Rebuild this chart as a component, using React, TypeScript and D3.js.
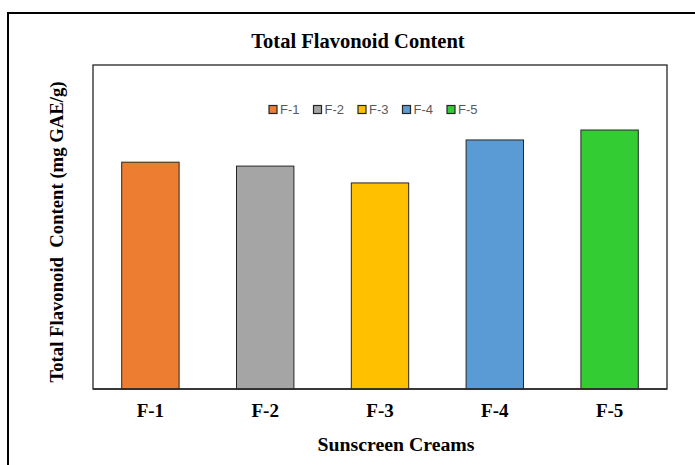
import React, { useEffect, useRef } from "react";
import * as d3 from "d3";

const categories = ["F-1", "F-2", "F-3", "F-4", "F-5"];
const values = [10.5, 10.32, 9.54, 11.53, 11.99];
const colors = ["#ED7D31", "#A5A5A5", "#FFC000", "#5B9BD5", "#33CC33"];
const yDomainMax = 15;

export default function App() {
  const ref = useRef<SVGSVGElement | null>(null);

  useEffect(() => {
    const svg = d3.select(ref.current);
    svg.selectAll("*").remove();
    const m = { left: 93, right: 667, top: 65, bottom: 389 };

    // outer frame
    svg.append("rect").attr("x", 8).attr("y", 13).attr("width", 700).attr("height", 470)
      .attr("fill", "white").attr("stroke", "#000").attr("stroke-width", 2);

    const x = d3.scaleBand<string>().domain(categories).range([m.left, m.right]).paddingInner(0.5).paddingOuter(0.25);
    const y = d3.scaleLinear().domain([0, yDomainMax]).range([m.bottom, m.top]);

    // plot border
    svg.append("rect").attr("x", m.left).attr("y", m.top).attr("width", m.right - m.left).attr("height", m.bottom - m.top)
      .attr("fill", "white").attr("stroke", "#262626").attr("stroke-width", 1.3);

    svg.append("g").selectAll("rect").data(categories).join("rect")
      .attr("x", (d) => x(d)!)
      .attr("y", (_d, i) => y(values[i]))
      .attr("width", x.bandwidth())
      .attr("height", (_d, i) => y(0) - y(values[i]))
      .attr("fill", (_d, i) => colors[i])
      .attr("stroke", "#262626").attr("stroke-width", 1);

    svg.append("line").attr("x1", m.left).attr("x2", m.right).attr("y1", m.bottom).attr("y2", m.bottom)
      .attr("stroke", "#262626").attr("stroke-width", 1.5);

    const serif = "'Liberation Serif', 'Times New Roman', serif";

    // x tick labels
    svg.append("g").selectAll("text").data(categories).join("text")
      .attr("x", (d) => x(d)! + x.bandwidth() / 2)
      .attr("y", 417)
      .attr("text-anchor", "middle")
      .attr("font-family", serif).attr("font-weight", "bold").attr("font-size", 19)
      .attr("fill", "#000")
      .text((d) => d);

    svg.append("text").attr("x", 396).attr("y", 451).attr("text-anchor", "middle")
      .attr("font-family", serif).attr("font-weight", "bold").attr("font-size", 19.8)
      .text("Sunscreen Creams");

    svg.append("text").attr("x", 358).attr("y", 48).attr("text-anchor", "middle")
      .attr("font-family", serif).attr("font-weight", "bold").attr("font-size", 20.5)
      .text("Total Flavonoid Content");

    svg.append("text")
      .attr("transform", `translate(63, 232) rotate(-90)`)
      .attr("text-anchor", "middle")
      .attr("font-family", serif).attr("font-weight", "bold").attr("font-size", 18.7)
      .style("white-space", "pre")
      .text("Total Flavonoid  Content (mg GAE/g)");

    // legend
    const lg = svg.append("g");
    const lx0 = 269, step = 44.5, ly = 109.5;
    categories.forEach((c, i) => {
      const gx = lx0 + i * step;
      lg.append("rect").attr("x", gx).attr("y", ly - 4).attr("width", 8).attr("height", 8)
        .attr("fill", colors[i]).attr("stroke", "#262626").attr("stroke-width", 1.2);
      lg.append("text").attr("x", gx + 11).attr("y", ly + 4.5)
        .attr("font-family", "'Liberation Sans', Arial, sans-serif").attr("font-size", 13)
        .attr("fill", "#595959").text(c);
    });
  }, []);

  return (
    <svg ref={ref} width={695} height={465}
      style={{ position: "fixed", left: 0, top: 0, display: "block", background: "white" }} />
  );
}
